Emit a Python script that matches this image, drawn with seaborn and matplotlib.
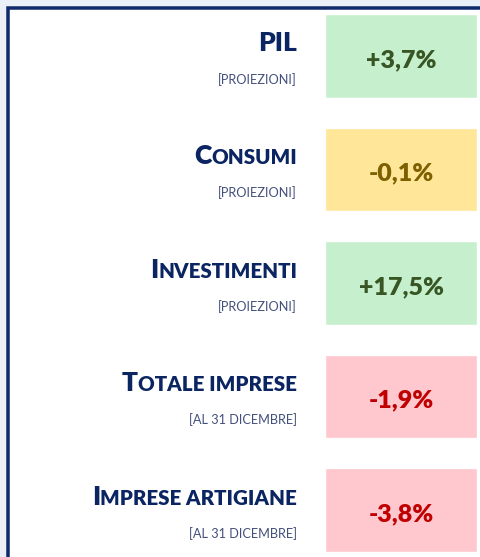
import re
import numpy as np
import seaborn as sns
import matplotlib.pyplot as plt
from matplotlib.patches import Rectangle

# KPI data
labels = ["PIL", "Consumi", "Investimenti", "Totale imprese", "Imprese artigiane"]
notes = ["[PROIEZIONI]", "[PROIEZIONI]", "[PROIEZIONI]", "[AL 31 DICEMBRE]", "[AL 31 DICEMBRE]"]
values = [3.7, -0.1, 17.5, -1.9, -3.8]
status = ["pos", "flat", "pos", "neg", "neg"]

# Style
fills = {"pos": "#c6efce", "flat": "#ffe699", "neg": "#ffc7ce"}
inks = {"pos": "#375623", "flat": "#7f6000", "neg": "#c00000"}
navy = "#0b2462"
note_color = "#44507c"
font = "Lato"

sns.set_theme(style="white")
plt.rcParams["font.family"] = [font, "DejaVu Sans"]

fig = plt.figure(figsize=(4.8, 5.57), dpi=100, facecolor="#ebeff8")
W, H = 480, 557

# white card with navy frame (runs off the right/bottom edge)
fig.add_artist(Rectangle((7.5 / W, -0.1), 1.2, 1.1 - 7.5 / H,
                         transform=fig.transFigure, facecolor="white",
                         edgecolor="#0e2a6b", linewidth=3.5 * 0.72, zorder=0))

# axis holding the coloured boxes, one category row every 113.5 px
row = 113.5
ax = fig.add_axes([325 / W, 1 - (56 + 4.5 * row) / H, 152 / W, 5 * row / H])
ax.set_facecolor("none")

sns.barplot(x=np.ones(len(labels)), y=labels, hue=labels, orient="h",
            palette=[fills[s] for s in status], width=0.74, saturation=1,
            legend=False, ax=ax)
ax.set_xlim(0, 1)
ax.set_ylim(len(labels) - 0.5, -0.5)
ax.axis("off")


def small_caps_runs(s):
    # upper-case chars stay big, lower-case become smaller capitals
    runs = re.findall(r"[A-Z]+[ ]*|[^A-Z]+", s)
    return [(r.upper(), r.strip().isupper()) for r in runs]


for i, (lab, note, v, st) in enumerate(zip(labels, notes, values, status)):
    # value inside the box
    txt = f"{v:+.1f}%".replace(".", ",")
    ax.annotate(txt, xy=(0.5, i), xycoords="data", xytext=(0, -11),
                textcoords="offset pixels", ha="center", va="baseline",
                fontsize=18, fontweight="heavy", color=inks[st])

    # note under the title
    ax.annotate(note, xy=(0, i), xycoords=("axes fraction", "data"),
                xytext=(-28, -28), textcoords="offset pixels",
                ha="right", va="baseline", fontsize=9.2, color=note_color)

    # title in small caps, drawn right to left
    anchor = None
    for text, big in reversed(small_caps_runs(lab)):
        size = 19 if big else 14.8
        if anchor is None:
            xy, coords, off = (0, i), ("axes fraction", "data"), (-28, 5)
        else:
            xy, coords, off = (0, i), (anchor, "data"), (0, 5)
        anchor = ax.annotate(text, xy=xy, xycoords=coords, xytext=off,
                             textcoords="offset pixels", ha="right",
                             va="baseline", fontsize=size,
                             fontweight="heavy", color=navy)

fig.savefig("out.png", dpi=100)
